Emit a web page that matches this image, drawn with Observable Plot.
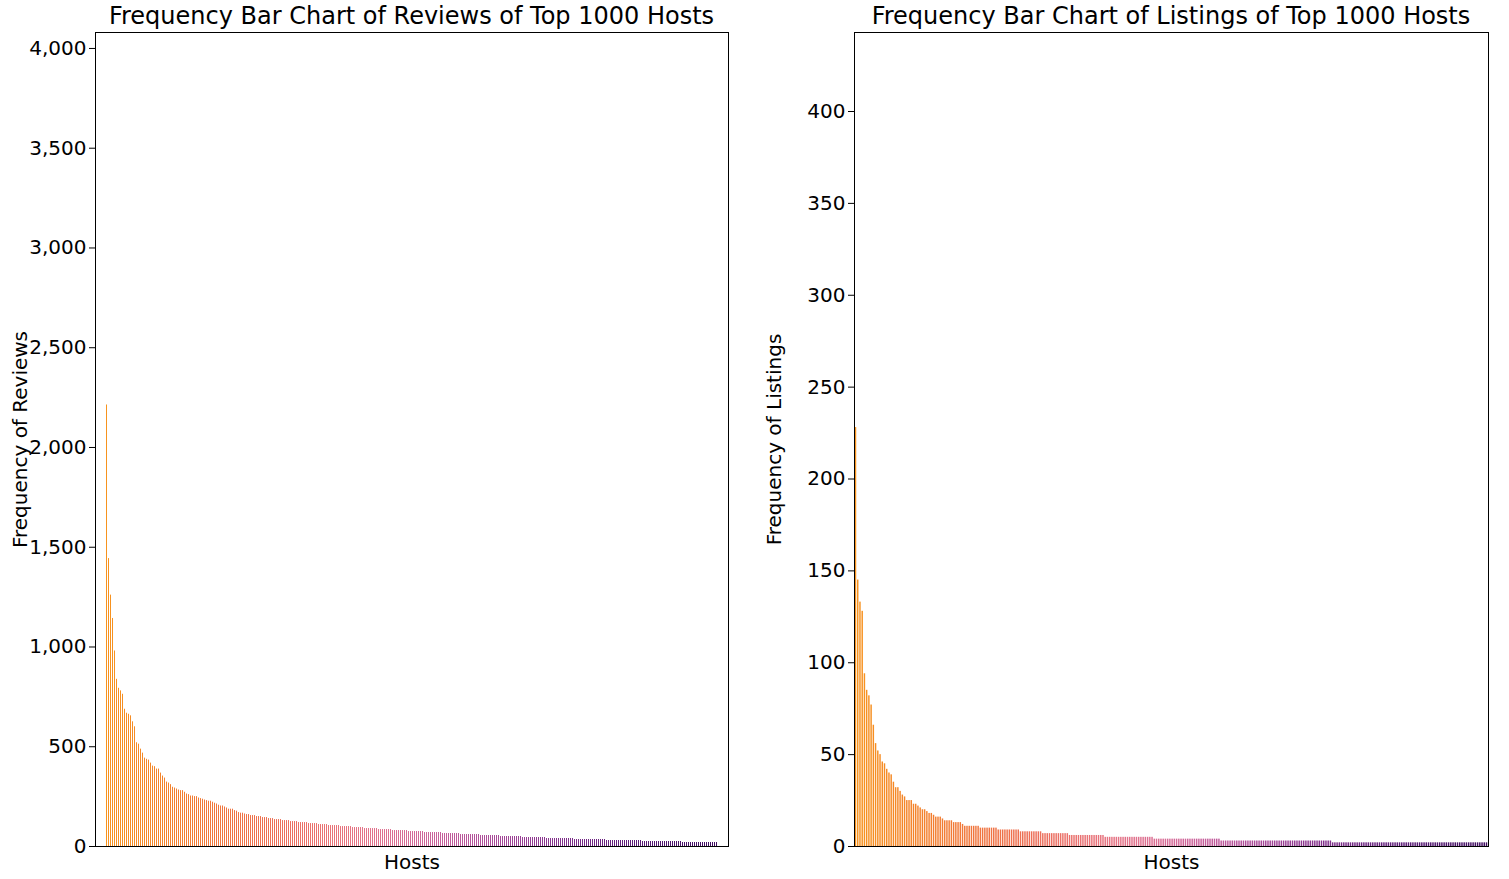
<!DOCTYPE html>
<html><head><meta charset="utf-8">
<script src="https://cdn.jsdelivr.net/npm/d3@7"></script>
<script src="https://cdn.jsdelivr.net/npm/@observablehq/plot@0.6"></script>
<style>
body{margin:0;background:#fff;font-family:"DejaVu Sans",sans-serif;}
.panel{position:absolute;top:0;}
.title{position:absolute;top:2px;font-size:24px;text-align:center;white-space:nowrap;}
</style></head><body>
<div id="p1" class="panel" style="left:0"></div>
<div id="p2" class="panel" style="left:754px"></div>
<script>
// Reviews per host (head values, then [value, count] runs for the tail)
const reviewsHead = [2213,1443,1260,1143,980,838,793,780,763,688,668,663,655,625,600,520,513,488,468,443,437,433,418,403,400,388,388,368,353,343,323,318,310,297,293,288,283,280,280,272,263,260,253,253,250,250,243,240,237,233,230,227,227,222,217,213,207,203,203,198,193,187,187,187,180,177,170,167,167,163];
const reviewsTail = [[160,2],[155,3],[150,3],[145,3],[140,3],[135,4],[130,4],[125,4],[120,5],[115,5],[110,5],[105,6],[100,6],[95,6],[90,7],[85,7],[80,8],[75,8],[70,9],[65,9],[60,10],[55,10],[50,11],[45,12],[40,14],[35,16],[30,18],[25,20],[20,18]];
// Listings per host
const listingsHead = [228,145,133,128,94,85,82,77,66,56,52,50,46,45,42,40,39,35,32,32,30,28,27,25,25,25,23,23,22,21,20,20,19,18,18,17,16,16,16,15,14,14,14,14,13,13,13,13,12,11];
const listingsTail = [[11,6],[10,8],[9,10],[8,10],[7,12],[6,16],[5,22],[4,30],[3,50],[2,70]];

const yTicksReviews = [0,500,1000,1500,2000,2500,3000,3500,4000];
const yTicksListings = [0,50,100,150,200,250,300,350,400];

function expand(head, tail){
  const v = head.slice();
  for (const [val,n] of tail) for (let i=0;i<n;i++) v.push(val);
  return v.map((y,i)=>({i,y}));
}
const cmap = d3.interpolateRgbBasis(["#f7931e","#f27a30","#ec6a55","#e8798f","#c25aa0","#8a3490","#5a1a78","#3f0c60"]);

function panel(id, data, title, ylabel, ymax, ticks, ml, mr){
  const n = data.length;
  const W = 754, H = 879;
  const chart = Plot.plot({
    width: W, height: H,
    marginLeft: ml, marginRight: mr, marginTop: 32, marginBottom: 33,
    style: {fontSize: "20px", fontFamily: "DejaVu Sans, sans-serif", color:"#000", background:"#fff"},
    x: {type:"band", domain: d3.range(n), padding: 0.35, axis: "bottom", ticks: [], tickSize:0, label: "Hosts", labelAnchor: "center", labelOffset: 22},
    y: {domain:[0, ymax], ticks: ticks, tickSize: 6, label: ylabel, labelAnchor: "center", labelArrow: "none", labelOffset: ml-12},
    marks: [
      Plot.barY(data, {x:"i", y:"y", fill: d => cmap(d.i/(n-1))}),
      Plot.frame({stroke:"#000"})
    ]
  });
  const el = document.getElementById(id);
  el.appendChild(chart);
  const t = document.createElement("div");
  t.className = "title";
  t.textContent = title;
  t.style.left = ml + "px"; t.style.width = (W-ml-mr) + "px";
  el.appendChild(t);
}
panel("p1", expand(reviewsHead, reviewsTail), "Frequency Bar Chart of Reviews of Top 1000 Hosts", "Frequency of Reviews", 4080, yTicksReviews, 95, 26);
panel("p2", expand(listingsHead, listingsTail), "Frequency Bar Chart of Listings of Top 1000 Hosts", "Frequency of Listings", 443, yTicksListings, 100, 20);
</script></body></html>
